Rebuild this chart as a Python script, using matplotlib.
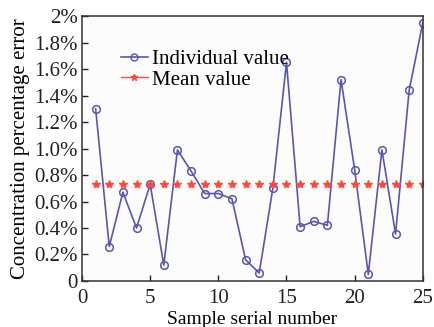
import matplotlib
matplotlib.use('Agg')
import matplotlib.pyplot as plt
from matplotlib.lines import Line2D

plt.rcParams['font.family'] = ['Liberation Serif', 'DejaVu Serif']

# Данные с графика
samples = list(range(1, 26))
individual = [1.30, 0.26, 0.67, 0.40, 0.73, 0.12, 0.99, 0.83, 0.66, 0.66,
              0.62, 0.16, 0.06, 0.70, 1.65, 0.41, 0.45, 0.42, 1.52, 0.84,
              0.05, 0.99, 0.355, 1.44, 1.95]
mean_value = [0.73] * 25
y_ticks = [0, 0.2, 0.4, 0.6, 0.8, 1.0, 1.2, 1.4, 1.6, 1.8, 2.0]
y_labels = ['0', '0.2%', '0.4%', '0.6%', '0.8%', '1.0%', '1.2%', '1.4%',
            '1.6%', '1.8%', '2%']
x_ticks = [0, 5, 10, 15, 20, 25]

blue = '#5a55b5'
red = '#ff4a3a'

fig = plt.figure(figsize=(4.35, 3.27), dpi=100)
ax = fig.add_axes([0.1885, 0.1407, 0.7835, 0.8103])
ax.set_facecolor('#fcfcfc')

ax.plot(samples, individual, color=blue, lw=1.2, marker='o', ms=5.5,
        mfc='none', mec=blue, mew=1.1)
ax.plot(samples, mean_value, color=red, ls='none', marker='*', ms=6,
        mec=red)

ax.set_xlim(0, 25)
ax.set_ylim(0, 2)
ax.set_xticks(x_ticks)
ax.set_yticks(y_ticks)
ax.set_yticklabels(y_labels)
ax.tick_params(direction='in', labelsize=15, length=4, width=1,
               colors='#222222')
ax.tick_params(axis='x', pad=6)
ax.tick_params(axis='y', pad=3)
for s in ax.spines.values():
    s.set_color('#333333')
    s.set_linewidth(1.1)

ax.set_ylabel('Concentration percentage error', fontsize=15, labelpad=3)
# подпись оси X внизу почти у края, как в оригинале
ax.set_xlabel('Sample serial number', fontsize=14, labelpad=2)

handles = [
    Line2D([], [], color=blue, lw=1.2, marker='o', ms=5, mfc='none', mew=1),
    Line2D([], [], color=red, lw=1.0, marker='*', ms=5),
]
ax.legend(handles, ['Individual value', 'Mean value'], loc='upper left',
          bbox_to_anchor=(0.089, 0.905), frameon=False, fontsize=15,
          handlelength=1.3, handletextpad=0.2, labelspacing=0.05,
          borderaxespad=0)

fig.savefig('out.png', dpi=100)
